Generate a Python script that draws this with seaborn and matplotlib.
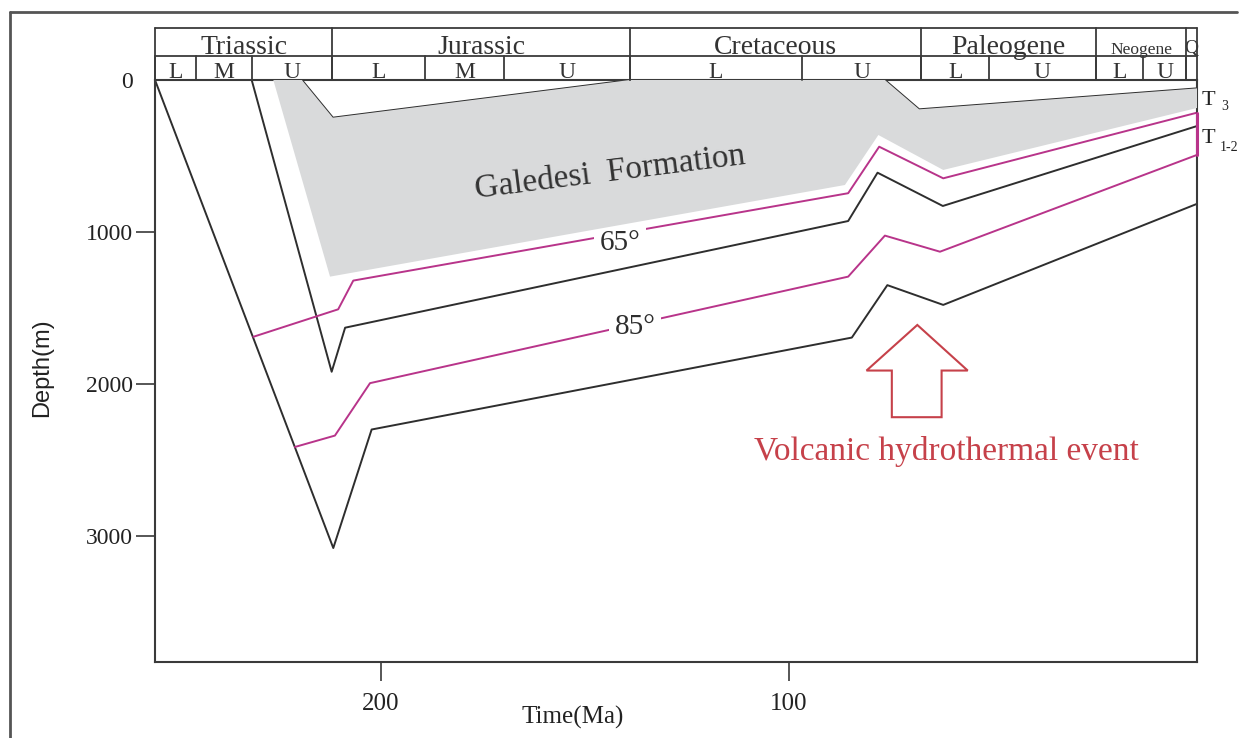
import matplotlib
matplotlib.use("Agg")
import matplotlib.pyplot as plt
import seaborn as sns
import numpy as np
import pandas as pd
from matplotlib.patches import Polygon
from matplotlib.lines import Line2D
from matplotlib.transforms import blended_transform_factory

# ---------------- data (age in Ma, depth in m) ----------------
age_min, age_max = 0.0, 255.4
depth_max = 3830

# burial curves (black)
line_a_age = [255.4, 211.7, 202.3, 84.6, 75.9, 62.2, 0.0]
line_a_depth = [0, 3080, 2300, 1695, 1350, 1480, 815]

line_c_age = [231.7, 212.1, 208.8, 85.5, 78.3, 62.3, 0.0]
line_c_depth = [0, 1920, 1630, 928, 610, 829, 303]

line_d_age = [219.4, 211.8, 139.0, 76.5, 68.1, 0.0]
line_d_depth = [0, 248, 0, 0, 193, 55]

# isotherms (magenta)
iso65_age = [231.3, 210.5, 206.8, 85.5, 77.9, 62.2, 0.0]
iso65_depth = [1690, 1509, 1320, 745, 439, 647, 215]

iso85_age = [221.1, 211.3, 202.7, 85.5, 76.5, 63.0, 0.0]
iso85_depth = [2415, 2340, 1995, 1294, 1024, 1130, 493]

# Galedesi Formation (grey area)
grey_age = [226.4, 219.4, 211.8, 139.0, 76.5, 68.1, 0.0, 0.0, 62.2, 78.1, 86.3, 212.5]
grey_depth = [0, 0, 248, 0, 0, 193, 55, 184, 592, 362, 691, 1294]

# hydrothermal arrow outline
arrow_age = [68.55, 56.2, 62.6, 62.6, 74.8, 74.8, 81.0]
arrow_depth = [1612, 1912, 1912, 2219, 2219, 1912, 1912]

# stratigraphic header
periods = ["Triassic", "Jurassic", "Cretaceous", "Paleogene", "Neogene", "Q"]
period_bounds = [255.4, 212.0, 139.0, 67.6, 24.8, 2.6, 0.0]
period_sizes = [20, 20, 20, 20, 12.5, 14]
epochs = ["L", "M", "U", "L", "M", "U", "L", "U", "L", "U", "L", "U"]
epoch_bounds = [255.4, 245.3, 231.6, 212.0, 189.2, 169.9, 139.0, 96.8, 67.6, 51.0, 24.8, 13.2, 2.6]

x_ticks = [200, 100]
y_ticks = [0, 1000, 2000, 3000]

# ---------------- styling ----------------
sns.set_theme(style="white")
plt.rcParams["font.family"] = ["Liberation Serif", "DejaVu Serif"]

BLACK = "#2e2e2e"
MAGENTA = "#b8348a"
GREY = "#d9dadb"
RED = "#c6414a"
FRAME = "#3a3a3a"

W, H = 1247, 738
fig = plt.figure(figsize=(W / 100, H / 100), dpi=100)
fig.patch.set_facecolor("white")
ax = fig.add_axes([155 / W, 76 / H, 1042 / W, 582 / H])
ax.set_facecolor("white")

ax.set_xlim(age_max, age_min)
ax.set_ylim(depth_max, 0)

# grey formation
ax.fill(grey_age, grey_depth, color=GREY, lw=0, zorder=4)

# lines
for ages, depths, col in [
    (line_a_age, line_a_depth, BLACK),
    (line_c_age, line_c_depth, BLACK),
    (line_d_age, line_d_depth, BLACK),
    (iso65_age, iso65_depth, MAGENTA),
    (iso85_age, iso85_depth, MAGENTA),
]:
    sns.lineplot(x=ages, y=depths, sort=False, estimator=None, color=col,
                 lw=1.4, ax=ax, zorder=2)

# magenta segment on right edge between isotherm ends
ax.plot([0, 0], [iso65_depth[-1], iso85_depth[-1]], color=MAGENTA, lw=2.2,
        clip_on=False, zorder=6)

# isotherm labels
ax.text(141.4, 1074, "65°", fontsize=21, ha="center", va="center", color=BLACK,
        zorder=3, bbox=dict(facecolor="white", edgecolor="none", pad=4))
ax.text(137.7, 1623, "85°", fontsize=21, ha="center", va="center", color=BLACK,
        zorder=3, bbox=dict(facecolor="white", edgecolor="none", pad=4))

# formation label
ax.text(143.9, 612, "Galedesi  Formation", fontsize=24, rotation=7.2,
        rotation_mode="anchor", ha="center", va="center", color="#333333", zorder=5)

# arrow
ax.add_patch(Polygon(np.column_stack([arrow_age, arrow_depth]), closed=True,
                     facecolor="none", edgecolor=RED, lw=1.5, zorder=5))
ax.text(61.5, 2447, "Volcanic hydrothermal event", fontsize=24, color=RED,
        ha="center", va="center", zorder=5)

# ticks & spines
ax.set_xticks(x_ticks)
ax.set_yticks(y_ticks)
ax.set_xticklabels([str(t) for t in x_ticks])
ax.set_yticklabels([str(t) for t in y_ticks])
ax.tick_params(axis="both", direction="out", length=14, width=1.2, color=FRAME,
               bottom=True, left=True, top=False, right=False, labelcolor="#222222")
ax.tick_params(axis="x", labelsize=18, pad=8)
ax.tick_params(axis="y", labelsize=17, pad=2)
ax.yaxis.get_major_ticks()[0].tick1line.set_visible(False)
for sp in ax.spines.values():
    sp.set_visible(True)
    sp.set_color(FRAME)
    sp.set_linewidth(1.5)
ax.grid(False)

ax.set_xlabel("Time(Ma)", fontsize=18, color="#222222")
ax.xaxis.set_label_coords((573 - 155) / 1042, (662 - 706) / 582)
ax.set_ylabel("Depth(m)", fontsize=17, color="#222222",
              fontfamily=["Liberation Sans", "DejaVu Sans"])
ax.yaxis.set_label_coords((53 - 155) / 1042, (662 - 368) / 582)

# header
tr = blended_transform_factory(ax.transData, ax.transAxes)
def yf(py):
    return (662 - py) / 582
y_top, y_mid, y_bot = yf(28.3), yf(55.5), 1.0
hl = dict(color=FRAME, lw=1.3, transform=tr, clip_on=False, zorder=6)
ax.plot([age_max, age_min], [y_top, y_top], **hl)
ax.plot([age_max, age_min], [y_mid, y_mid], **hl)
for b in period_bounds:
    ax.plot([b, b], [y_bot, y_top], **hl)
for b in epoch_bounds:
    ax.plot([b, b], [y_bot, y_mid], **hl)
for i, name in enumerate(periods):
    cx = (period_bounds[i] + period_bounds[i + 1]) / 2
    ax.text(cx, yf(53.5), name, fontsize=period_sizes[i], ha="center", va="baseline",
            color="#333333", transform=tr, clip_on=False)
for i, name in enumerate(epochs):
    cx = (epoch_bounds[i] + epoch_bounds[i + 1]) / 2
    ax.text(cx, yf(78), name, fontsize=17, ha="center", va="baseline",
            color="#333333", transform=tr, clip_on=False)

# horizon labels on the right
def fx(px):
    return (px - 155) / 1042
ax.text(fx(1202), yf(105), "T", fontsize=16, ha="left", va="baseline",
        transform=ax.transAxes, clip_on=False, color="#222222")
ax.text(fx(1221), yf(110), "3", fontsize=10, ha="left", va="baseline",
        transform=ax.transAxes, clip_on=False, color="#222222")
ax.text(fx(1202), yf(143), "T", fontsize=16, ha="left", va="baseline",
        transform=ax.transAxes, clip_on=False, color="#222222")
ax.text(fx(1220), yf(151), "1-2", fontsize=10, ha="left", va="baseline",
        transform=ax.transAxes, clip_on=False, color="#222222")

# outer frame (left & top)
fig.add_artist(Line2D([10 / W, 10 / W], [0, 1 - 11.7 / H], transform=fig.transFigure,
                      color="#555555", lw=2))
fig.add_artist(Line2D([10 / W, 1 - 10 / W], [1 - 11.7 / H, 1 - 11.7 / H],
                      transform=fig.transFigure, color="#555555", lw=2))

fig.savefig("out.png", dpi=100, facecolor="white")
